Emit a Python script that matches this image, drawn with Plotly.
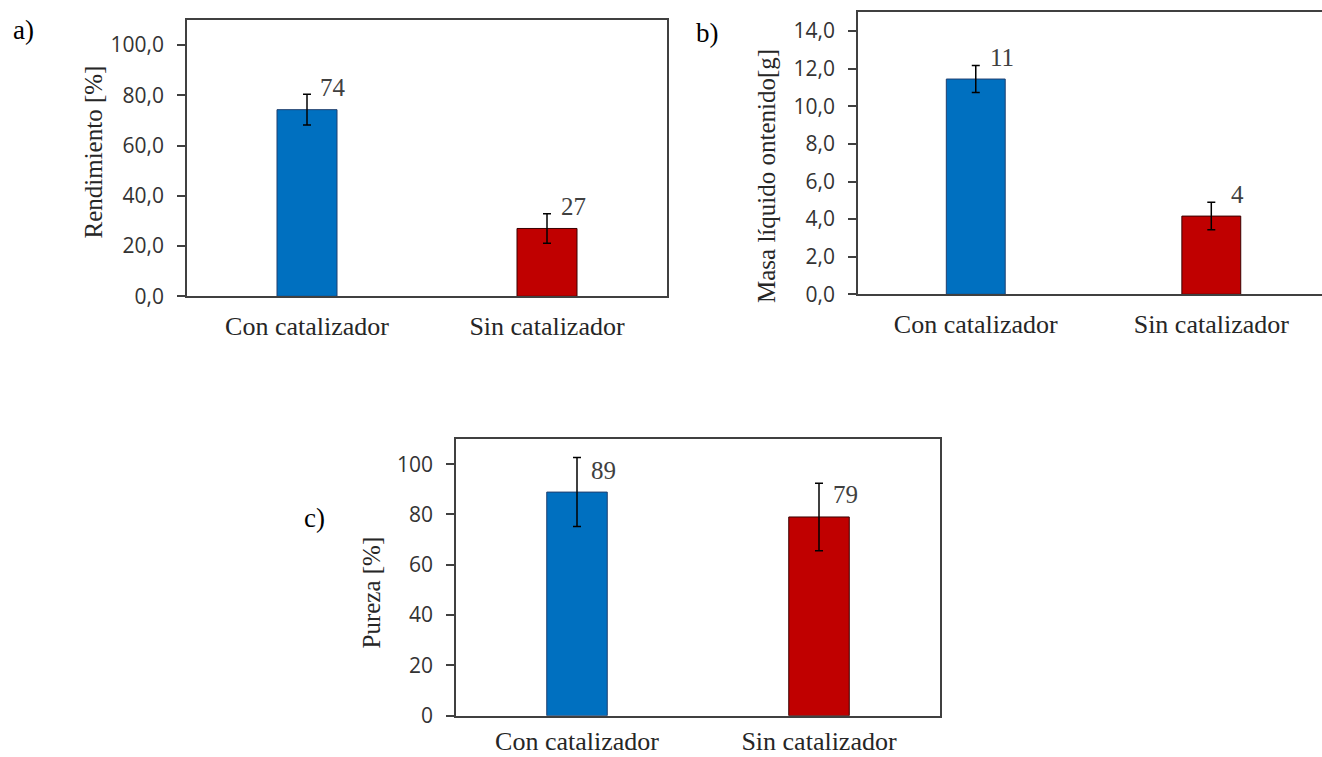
import plotly.graph_objects as go

# ---- data -------------------------------------------------------------
categories = ["Con catalizador", "Sin catalizador"]

rendimiento = [74.3, 27.0]          # Rendimiento [%]
rendimiento_err = [6.1, 5.9]

masa_liquido = [11.45, 4.16]        # Masa líquido obtenido [g]
masa_liquido_err = [0.72, 0.73]

pureza = [88.9, 79.0]               # Pureza [%]
pureza_err = [13.7, 13.4]

bar_colors = ["#0070C0", "#C00000"]
bar_edges = ["#1F3F6F", "#3A0000"]

# ---- layout helpers ---------------------------------------------------
W = 1322
H = 769                 # canvas height
Y_REF = 757             # vertical positions below are given on a 757-px grid
SERIF = "Liberation Serif"
SANS = "Open Sans"
AXIS_COLOR = "#404040"
TEXT_COLOR = "#262626"


def fx(px):
    return px / W


def fy(py):
    return 1 - py / Y_REF


fig = go.Figure()

panels = [
    dict(vals=rendimiento, errs=rendimiento_err, box=(187, 20, 667, 296.3), yr=[0, 110], dtick=20,
         fmt=".1f", xr=[-0.5, 1.5], title="Rendimiento [%]", tpos=(93, 151.5), tag="a)",
         tagpos=(23.5, 30), mirror_y=True, cat_gap=6),
    dict(vals=masa_liquido, errs=masa_liquido_err, box=(858, 12.3, 1322, 294.3), yr=[0, 15], dtick=2,
         fmt=".1f", xr=[-0.5, 1.47], title="Masa líquido ontenido[g]", tpos=(766.5, 176.5), tag="b)",
         tagpos=(707.5, 32.5), mirror_y=False, cat_gap=6),
    dict(vals=pureza, errs=pureza_err, box=(456, 439, 940, 715.7), yr=[0, 110], dtick=20,
         fmt="d", xr=[-0.5, 1.5], title="Pureza [%]", tpos=(371, 592.5), tag="c)",
         tagpos=(314.5, 518), mirror_y=True, cat_gap=1),
]

annotations = []
for i, p in enumerate(panels, start=1):
    xa = "x" if i == 1 else f"x{i}"
    ya = "y" if i == 1 else f"y{i}"
    left, top, right, bottom = p["box"]

    fig.add_trace(go.Bar(
        x=categories, y=p["vals"], width=0.25,
        marker=dict(color=bar_colors, line=dict(color=bar_edges, width=1)),
        error_y=dict(type="data", array=p["errs"], visible=True,
                     color="black", thickness=1.5, width=4),
        xaxis=xa, yaxis=ya, showlegend=False, hoverinfo="skip",
    ))

    # value labels, offset to the upper right of each bar
    for cat, v in zip(categories, p["vals"]):
        annotations.append(dict(
            x=cat, y=v, xref=xa, yref=ya, text=f"{v:.0f}", showarrow=False,
            xshift=26, yshift=22, font=dict(family=SERIF, size=25, color="#404040"),
            xanchor="center", yanchor="middle"))

    # y-axis title
    annotations.append(dict(
        x=fx(p["tpos"][0]), y=fy(p["tpos"][1]), xref="paper", yref="paper",
        text=p["title"], textangle=-90, showarrow=False,
        font=dict(family=SERIF, size=25, color=TEXT_COLOR),
        xanchor="center", yanchor="middle"))

    # panel tag
    annotations.append(dict(
        x=fx(p["tagpos"][0]), y=fy(p["tagpos"][1]), xref="paper", yref="paper",
        text=p["tag"], showarrow=False,
        font=dict(family=SERIF, size=27, color="black"),
        xanchor="center", yanchor="middle"))

    xkey = "xaxis" if i == 1 else f"xaxis{i}"
    ykey = "yaxis" if i == 1 else f"yaxis{i}"
    fig.layout[xkey] = dict(
        domain=[fx(left), fx(right)], anchor=ya, type="category", range=p["xr"],
        showline=True, linecolor=AXIS_COLOR, linewidth=1.5, mirror=True,
        ticks="", showgrid=False, zeroline=False, ticklabelstandoff=p["cat_gap"],
        tickfont=dict(family=SERIF, size=26, color=TEXT_COLOR), fixedrange=True,
    )
    fig.layout[ykey] = dict(
        domain=[fy(bottom), fy(top)], anchor=xa, range=p["yr"],
        tick0=0, dtick=p["dtick"], tickformat=p["fmt"],
        showline=True, linecolor=AXIS_COLOR, linewidth=1.5, mirror=p["mirror_y"],
        ticks="outside", ticklen=8, tickwidth=1.5, tickcolor=AXIS_COLOR,
        ticklabelstandoff=9,
        showgrid=False, zeroline=False,
        tickfont=dict(family=SANS, size=21, color="#333333"), fixedrange=True,
    )

fig.update_layout(
    width=W, height=H,
    margin=dict(l=0, r=0, t=0, b=H - Y_REF),
    paper_bgcolor="white", plot_bgcolor="white",
    separators=",.",
    annotations=annotations,
    bargap=0.75,
)

fig.write_html("out.html")
